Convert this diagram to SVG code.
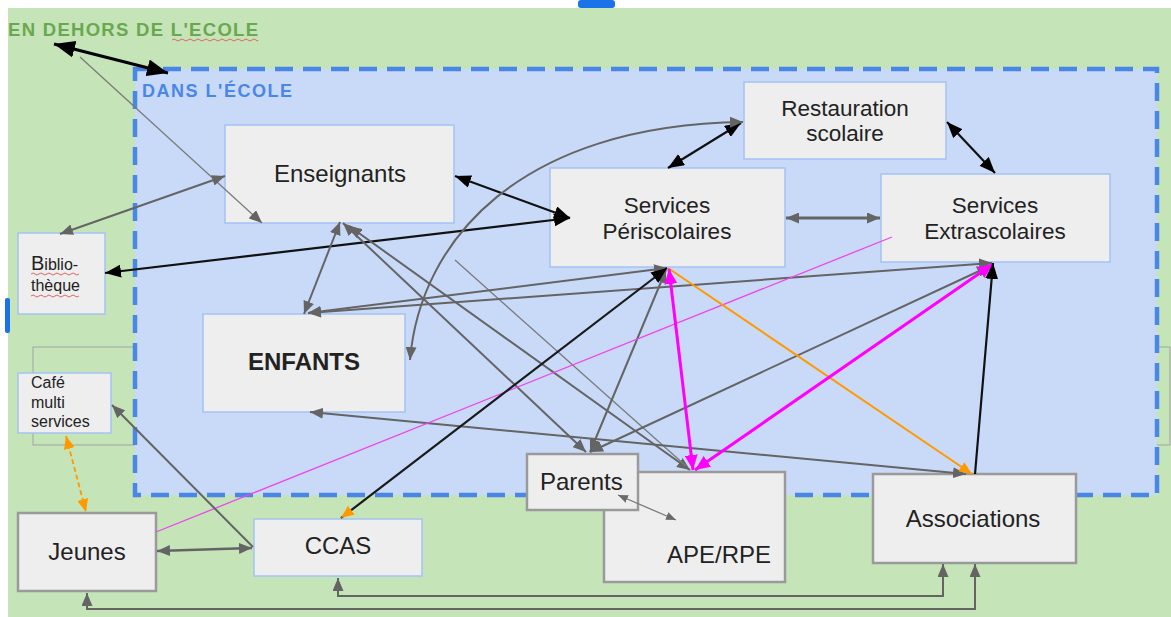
<svg xmlns="http://www.w3.org/2000/svg" width="1171" height="617" viewBox="0 0 1171 617">
<defs>
<style>
.bx{fill:#eeeeee;stroke:#a4c2f4;stroke-width:1.5}
.bg{fill:#eeeeee;stroke:#9a9a9a;stroke-width:2.5}
.t{font-family:"Liberation Sans",Arial,sans-serif;font-size:24px;fill:#222}
.t2{font-family:"Liberation Sans",Arial,sans-serif;font-size:22.5px;fill:#222}
.ts{font-family:"Liberation Sans",Arial,sans-serif;font-size:16px;fill:#222}
.g{stroke:#646464;stroke-width:2;fill:none}
.gt{stroke:#7a7a7a;stroke-width:1.3;fill:none}
.k{stroke:#111;stroke-width:2.2;fill:none}
.m{stroke:#ff00ff;stroke-width:3;fill:none}
.o{stroke:#ff9900;stroke-width:2;fill:none}
.p{stroke:#ee44ee;stroke-width:1.3;fill:none}
.sq{stroke:#e06666;stroke-width:1;fill:none}
</style>
<marker id="ag" markerUnits="userSpaceOnUse" markerWidth="14" markerHeight="11" refX="13" refY="5.5" orient="auto-start-reverse"><path d="M0,0 L13,5.5 L0,11 z" fill="#646464"/></marker>
<marker id="ags" markerUnits="userSpaceOnUse" markerWidth="11" markerHeight="8" refX="10" refY="4" orient="auto-start-reverse"><path d="M0,0 L10,4 L0,8 z" fill="#6a6a6a"/></marker>
<marker id="ak" markerUnits="userSpaceOnUse" markerWidth="17" markerHeight="13" refX="16" refY="6.5" orient="auto-start-reverse"><path d="M0,0 L16,6.5 L0,13 z" fill="#000"/></marker>
<marker id="akb" markerUnits="userSpaceOnUse" markerWidth="22" markerHeight="17" refX="21" refY="8.5" orient="auto-start-reverse"><path d="M0,0 L21,8.5 L0,17 z" fill="#000"/></marker>
<marker id="am" markerUnits="userSpaceOnUse" markerWidth="16" markerHeight="13" refX="15" refY="6.5" orient="auto-start-reverse"><path d="M0,0 L15,6.5 L0,13 z" fill="#ff00ff"/></marker>
<marker id="ao" markerUnits="userSpaceOnUse" markerWidth="14" markerHeight="11" refX="13" refY="5.5" orient="auto-start-reverse"><path d="M0,0 L13,5.5 L0,11 z" fill="#ff9900"/></marker>
</defs>

<rect x="0" y="0" width="1171" height="617" fill="#ffffff"/>
<rect x="8" y="8" width="1163" height="609" fill="#c5e4b8"/>
<rect x="578" y="0" width="37" height="8" rx="3" fill="#1a73e8"/>
<rect x="5" y="298" width="5" height="35" rx="2" fill="#1a73e8"/>
<rect x="33" y="347" width="1137" height="98" fill="none" stroke="#a3a3a3" stroke-width="1"/>

<g id="zone-ecole">
<rect x="135" y="69" width="1022" height="426" fill="#c9daf8" stroke="#4a86e8" stroke-width="4.5" stroke-dasharray="18 10"/>
<text x="142" y="97" font-family="'Liberation Sans',Arial,sans-serif" font-weight="bold" font-size="18" fill="#4a86e8" textLength="150" lengthAdjust="spacing">DANS L'ÉCOLE</text>
</g>
<g id="zone-dehors">
<text x="8" y="36" font-family="'Liberation Sans',Arial,sans-serif" font-weight="bold" font-size="18.5" fill="#6aa84f" textLength="250" lengthAdjust="spacing">EN DEHORS DE L'ECOLE</text>
<path class="sq" d="M172,40 q2,-2 4,0 t4,0 t4,0 t4,0 t4,0 t4,0 t4,0 t4,0 t4,0 t4,0 t4,0 t4,0 t4,0 t4,0 t4,0 t4,0 t4,0 t4,0 t4,0 t4,0 t4,0 t2,0"/>
</g>

<g id="enseignants"><rect class="bx" x="225" y="125" width="229" height="98"/><text class="t" x="340" y="182" text-anchor="middle">Enseignants</text></g>
<g id="restauration"><rect class="bx" x="744" y="82" width="202" height="77"/><text class="t2" x="845" y="116" text-anchor="middle">Restauration</text><text class="t2" x="845" y="141" text-anchor="middle">scolaire</text></g>
<g id="periscolaires"><rect class="bx" x="550" y="168" width="235" height="99"/><text class="t2" x="667" y="213" text-anchor="middle">Services</text><text class="t2" x="667" y="239" text-anchor="middle">Périscolaires</text></g>
<g id="extrascolaires"><rect class="bx" x="881" y="174" width="229" height="88"/><text class="t2" x="995" y="213" text-anchor="middle">Services</text><text class="t2" x="995" y="239" text-anchor="middle">Extrascolaires</text></g>
<g id="bibliotheque"><rect class="bx" x="18" y="233" width="87" height="81"/><text class="ts" x="31" y="270"><tspan font-size="20">B</tspan>iblio-</text><text class="ts" x="31" y="291">thèque</text>
<path class="sq" d="M31,274 q2,-2 4,0 t4,0 t4,0 t4,0 t4,0 t4,0 t4,0 t4,0 t4,0 t4,0 t4,0 t4,0 M31,296 q2,-2 4,0 t4,0 t4,0 t4,0 t4,0 t4,0 t4,0 t4,0 t4,0 t4,0 t4,0 t4,0"/></g>
<g id="cafe"><rect class="bx" x="18" y="373" width="93" height="60"/><text class="ts" x="31" y="388" font-size="15">Café</text><text class="ts" x="31" y="408" font-size="15">multi</text><text class="ts" x="31" y="427" font-size="15">services</text></g>
<g id="enfants"><rect class="bx" x="203" y="314" width="202" height="98"/><text class="t" x="304" y="370" text-anchor="middle" font-weight="bold">ENFANTS</text></g>
<g id="ape-rpe"><rect class="bg" x="604" y="472" width="181" height="110"/><text class="t" x="667" y="563">APE/RPE</text></g>
<g id="parents"><rect class="bg" x="527" y="454" width="111" height="56"/><text class="t" x="540" y="490">Parents</text></g>
<g id="associations"><rect class="bg" x="873" y="474" width="203" height="89"/><text class="t" x="973" y="527" text-anchor="middle">Associations</text></g>
<g id="jeunes"><rect class="bg" x="18" y="513" width="138" height="78"/><text class="t" x="87" y="560" text-anchor="middle">Jeunes</text></g>
<g id="ccas"><rect class="bx" x="254" y="519" width="168" height="57"/><text class="t" x="338" y="554" text-anchor="middle">CCAS</text></g>

<g id="connectors">
<line x1="54" y1="44" x2="168" y2="73" stroke="#000" stroke-width="3" marker-start="url(#akb)" marker-end="url(#akb)"/>
<line class="gt" x1="80" y1="57" x2="262" y2="223" marker-end="url(#ag)"/>
<line class="g" x1="225" y1="176" x2="60" y2="234" marker-start="url(#ag)" marker-end="url(#ag)"/>
<line class="k" x1="570" y1="218" x2="105" y2="273" marker-start="url(#ak)" marker-end="url(#ak)"/>
<line class="k" x1="455" y1="176" x2="570" y2="218" marker-start="url(#ak)" marker-end="url(#ak)"/>
<line class="k" x1="741" y1="123" x2="668" y2="168" marker-start="url(#ak)" marker-end="url(#ak)"/>
<line class="k" x1="947" y1="122" x2="995" y2="173" marker-start="url(#ak)" marker-end="url(#ak)"/>
<line x1="786" y1="218" x2="880" y2="218" stroke="#646464" stroke-width="3" marker-start="url(#ag)" marker-end="url(#ag)"/>
<path class="g" d="M410,360 C420,240 520,125 743,122" marker-start="url(#ag)" marker-end="url(#ag)"/>
<line class="g" x1="340" y1="222" x2="304" y2="314" marker-start="url(#ag)" marker-end="url(#ag)"/>
<line class="g" x1="343" y1="223" x2="586" y2="452" marker-start="url(#ag)" marker-end="url(#ag)"/>
<line class="g" x1="349" y1="226" x2="690" y2="470" marker-start="url(#ag)" marker-end="url(#ag)"/>
<line class="gt" x1="455" y1="260" x2="686" y2="466"/>
<line class="g" x1="308" y1="313" x2="667" y2="268" marker-start="url(#ag)" marker-end="url(#ag)"/>
<line class="g" x1="308" y1="313" x2="992" y2="263" marker-start="url(#ag)" marker-end="url(#ag)"/>
<line class="g" x1="666" y1="270" x2="590" y2="452" marker-start="url(#ag)" marker-end="url(#ag)"/>
<line class="g" x1="990" y1="266" x2="590" y2="452" marker-start="url(#ag)" marker-end="url(#ag)"/>
<line class="g" x1="966" y1="474" x2="310" y2="412" marker-start="url(#ag)" marker-end="url(#ag)"/>
<line class="p" x1="892" y1="237" x2="156" y2="532"/>
<line class="o" x1="668" y1="268" x2="972" y2="474" marker-end="url(#ao)"/>
<line x1="341" y1="518" x2="667" y2="268" stroke="#1a1a1a" stroke-width="2.2" marker-start="url(#ao)" marker-end="url(#ak)"/>
<line class="m" x1="669" y1="269" x2="693" y2="470" marker-start="url(#am)" marker-end="url(#am)"/>
<line class="m" x1="695" y1="470" x2="993" y2="264" marker-start="url(#am)" marker-end="url(#am)"/>
<line class="k" x1="975" y1="474" x2="993" y2="263" marker-end="url(#ak)"/>
<line class="gt" x1="618" y1="495" x2="676" y2="520" marker-start="url(#ags)" marker-end="url(#ags)"/>
<line class="g" x1="253" y1="547" x2="112" y2="405" marker-end="url(#ag)"/>
<line x1="157" y1="551" x2="252" y2="548" stroke="#646464" stroke-width="2.5" marker-start="url(#ag)" marker-end="url(#ag)"/>
<line x1="66" y1="436" x2="86" y2="512" stroke="#ff9900" stroke-width="1.8" stroke-dasharray="5 3" marker-start="url(#ao)" marker-end="url(#ao)"/>
<polyline class="g" points="87,593 87,609 975,609 975,564" marker-start="url(#ag)" marker-end="url(#ag)"/>
<polyline class="g" points="338,578 338,596 943,596 943,564" marker-start="url(#ag)" marker-end="url(#ag)"/>
</g>
</svg>
